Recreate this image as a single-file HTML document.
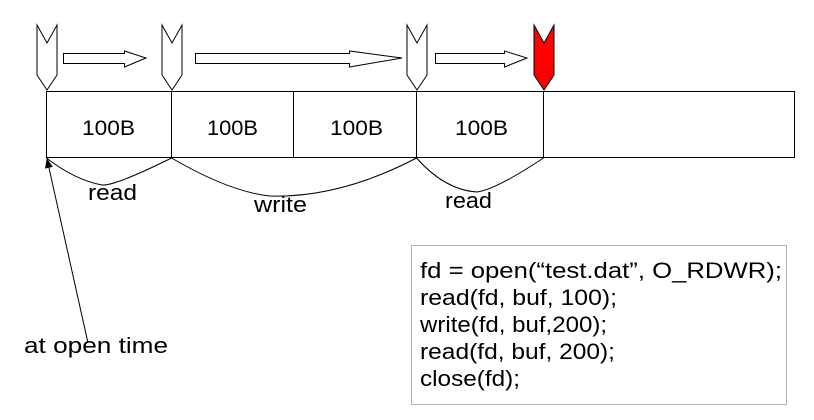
<!DOCTYPE html>
<html><head><meta charset="utf-8"><style>
html,body{margin:0;padding:0;background:#fff;}
svg{display:block;}
text{font-family:"Liberation Sans","Noto Sans CJK KR",sans-serif;fill:#000;}
</style></head><body>
<svg width="814" height="420" viewBox="0 0 814 420" xmlns="http://www.w3.org/2000/svg">
<defs>
<marker id="ah" markerWidth="10" markerHeight="10" refX="9" refY="5" orient="auto" markerUnits="userSpaceOnUse">
<path d="M0,1 L10,5 L0,9 Z" fill="#000"/>
</marker>
</defs>
<rect x="46.5" y="91.5" width="748" height="66" fill="#fff" stroke="#000" stroke-width="1"/>
<line x1="171.5" y1="91" x2="171.5" y2="157" stroke="#000"/>
<line x1="293.5" y1="91" x2="293.5" y2="157" stroke="#000"/>
<line x1="416.5" y1="91" x2="416.5" y2="157" stroke="#000"/>
<line x1="543.5" y1="91" x2="543.5" y2="157" stroke="#000"/>
<g font-size="21">
<text x="82" y="135" textLength="53" lengthAdjust="spacingAndGlyphs">100B</text>
<text x="207" y="135" textLength="51" lengthAdjust="spacingAndGlyphs">100B</text>
<text x="330" y="135" textLength="53" lengthAdjust="spacingAndGlyphs">100B</text>
<text x="455" y="135" textLength="53" lengthAdjust="spacingAndGlyphs">100B</text>
</g>
<g stroke="#000" stroke-width="1" fill="#fff">
<path d="M37,25 L47,43 L57,25 L57,75 L47,90 L37,75 Z"/>
<path d="M162,25 L172,43 L182,25 L182,75 L172,90 L162,75 Z"/>
<path d="M407,25 L417,43 L427,25 L427,75 L417,90 L407,75 Z"/>
<path d="M534,25 L544,43 L554,25 L554,75 L544,90 L534,75 Z" fill="#f00"/>
<path d="M63.5,53.5 L124.5,53.5 L124.5,51 L146,58 L124.5,67 L124.5,63.5 L63.5,63.5 Z"/>
<path d="M195.5,53.5 L349.5,53.5 L349.5,51 L402,58 L349.5,67 L349.5,63.5 L195.5,63.5 Z"/>
<path d="M435.5,53.5 L504.5,53.5 L504.5,51 L527,58 L504.5,67 L504.5,63.5 L435.5,63.5 Z"/>
</g>
<g stroke="#000" stroke-width="1" fill="none">
<path d="M46.5,158 Q75,180 102,185 Q115,186 171.5,158"/>
<path d="M171.5,158 Q230,192 270,196 Q340,198 416.5,158"/>
<path d="M416.5,158 Q445,190 477,192 Q495,190 543.5,158"/>
<line x1="88" y1="343" x2="47" y2="159" marker-end="url(#ah)"/>
</g>
<g font-size="22">
<text x="88" y="200" textLength="49" lengthAdjust="spacingAndGlyphs">read</text>
<text x="254" y="212" textLength="53" lengthAdjust="spacingAndGlyphs">write</text>
<text x="445" y="208" textLength="47" lengthAdjust="spacingAndGlyphs">read</text>
<text x="24" y="353" textLength="144" lengthAdjust="spacingAndGlyphs">at open time</text>
</g>
<rect x="411.5" y="245.5" width="375" height="159" fill="none" stroke="#666" stroke-width="1" stroke-dasharray="1,1"/>
<g font-size="22">
<text x="420" y="278" textLength="362" lengthAdjust="spacingAndGlyphs">fd = open(“test.dat”, O_RDWR);</text>
<text x="420" y="305" textLength="197" lengthAdjust="spacingAndGlyphs">read(fd, buf, 100);</text>
<text x="420" y="332" textLength="187" lengthAdjust="spacingAndGlyphs">write(fd, buf,200);</text>
<text x="420" y="359" textLength="195" lengthAdjust="spacingAndGlyphs">read(fd, buf, 200);</text>
<text x="420" y="386" textLength="100" lengthAdjust="spacingAndGlyphs">close(fd);</text>
</g>
</svg>
</body></html>
